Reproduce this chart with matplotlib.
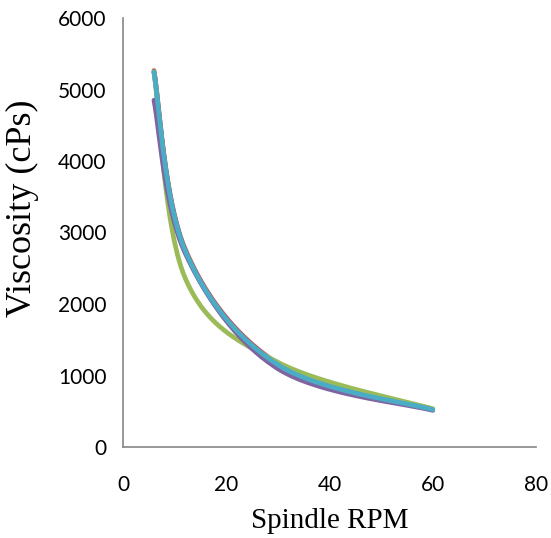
import numpy as np
import matplotlib
matplotlib.use("Agg")
import matplotlib.pyplot as plt

# Data (Brookfield spindle speeds, viscosity in cPs)
rpm = [6, 12, 30, 60]
series_1 = [5240, 2750, 1150, 520]   # blue
series_2 = [5265, 2775, 1165, 528]   # red
series_3 = [5250, 2370, 1185, 535]   # green
series_4 = [4850, 2720, 1095, 512]   # purple
series_5 = [5245, 2755, 1150, 522]   # aqua
colors = ["#4F81BD", "#C0504D", "#9BBB59", "#8064A2", "#4BACC6"]

x_ticks = [0, 20, 40, 60, 80]
y_ticks = [0, 1000, 2000, 3000, 4000, 5000, 6000]


def smooth(xs, ys, n=60):
    """Excel-style smoothed line (Catmull-Rom Bezier)."""
    P = np.column_stack([xs, ys]).astype(float)
    out = []
    m = len(P)
    t = np.linspace(0, 1, n)[:, None]
    for i in range(m - 1):
        p0 = P[i - 1] if i > 0 else P[i]
        p1 = P[i]
        p2 = P[i + 1]
        p3 = P[i + 2] if i + 2 < m else P[i + 1]
        c1 = p1 + (p2 - p0) / 6.0
        c2 = p2 - (p3 - p1) / 6.0
        seg = ((1 - t) ** 3) * p1 + 3 * ((1 - t) ** 2) * t * c1 + 3 * (1 - t) * t ** 2 * c2 + t ** 3 * p2
        out.append(seg if i == 0 else seg[1:])
    arr = np.vstack(out)
    return arr[:, 0], arr[:, 1]


fig = plt.figure(figsize=(5.51, 5.38), dpi=100)
ax = fig.add_axes([123 / 551, 1 - 447 / 538, (536 - 123) / 551, (447 - 18) / 538])

for ys, c in zip([series_1, series_2, series_3, series_4, series_5], colors):
    sx, sy = smooth(rpm, ys)
    ax.plot(sx, sy, color=c, lw=3.4, solid_capstyle="round", solid_joinstyle="round")

ax.set_xlim(0, 80)
ax.set_ylim(0, 6000)
ax.set_xticks(x_ticks)
ax.set_yticks(y_ticks)
for s in ["top", "right"]:
    ax.spines[s].set_visible(False)
for s in ["left", "bottom"]:
    ax.spines[s].set_color("#868686")
    ax.spines[s].set_linewidth(1.2)
ax.tick_params(length=0, labelsize=15, pad=12)
for lab in ax.get_xticklabels() + ax.get_yticklabels():
    lab.set_fontfamily("Lato")
ax.tick_params(axis="x", pad=20)

ax.set_xlabel("Spindle RPM", fontfamily="Liberation Serif", fontsize=21)
ax.xaxis.set_label_coords(330 / 551, 1 - 521 / 538, transform=fig.transFigure)
ax.xaxis.label.set_va("center")
ax.set_ylabel("Viscosity (cPs)", fontfamily="Liberation Serif", fontsize=26)
ax.yaxis.set_label_coords(22 / 551, 1 - 208 / 538, transform=fig.transFigure)
ax.yaxis.label.set_va("center")

fig.savefig("out.png", dpi=100)
